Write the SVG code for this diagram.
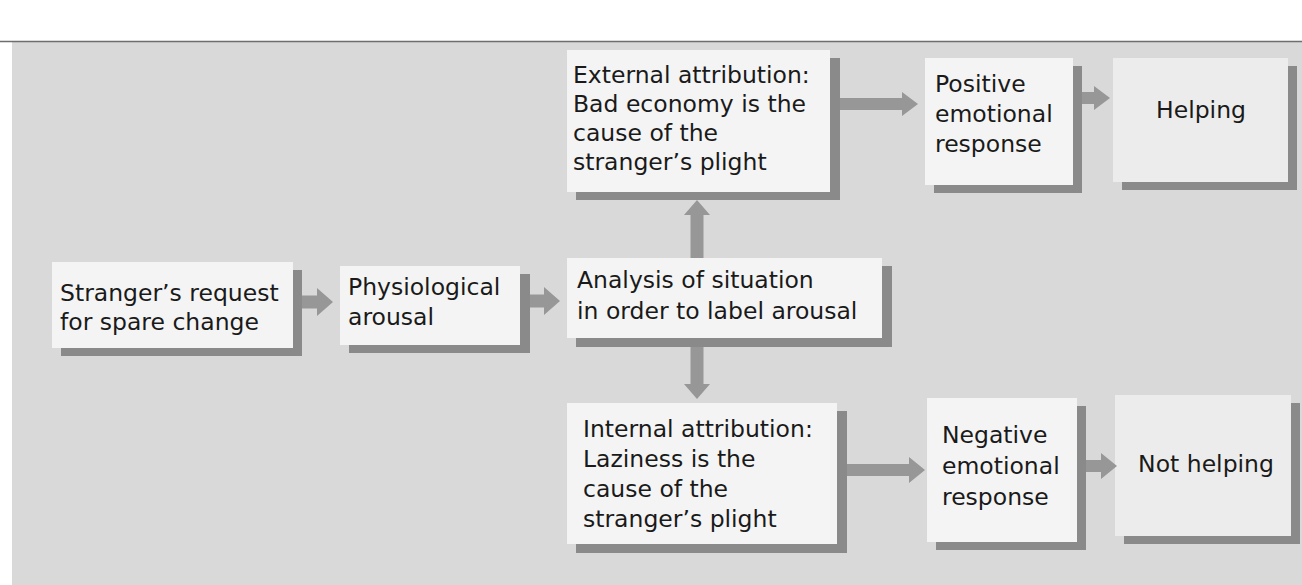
<svg xmlns="http://www.w3.org/2000/svg" width="1302" height="585" viewBox="0 0 1302 585">
<style>
  .bg { fill: #d9d9d9; }
  .box { fill: #f4f4f4; }
  .box2 { fill: #ececec; }
  .shadow { fill: #8a8a8a; }
  .arrow { fill: #979797; }
  text { font-family: "DejaVu Sans", "Noto Sans", sans-serif; font-size: 23.5px; fill: #1a1a1a; }
  .c { text-anchor: middle; }
</style>
<rect x="0" y="0" width="1302" height="585" fill="#ffffff"/>
<rect class="bg" x="12" y="42" width="1290" height="543"/>
<line x1="0" y1="41.5" x2="1302" y2="41.5" stroke="#6e6e6e" stroke-width="1.5"/>

<g id="node-request">
  <rect class="shadow" x="61" y="270" width="241" height="86"/>
  <rect class="box" x="52" y="262" width="241" height="86"/>
  <text x="60" y="301">Stranger’s request</text>
  <text x="60" y="330">for spare change</text>
</g>
<g id="node-arousal">
  <rect class="shadow" x="349" y="274" width="181" height="79"/>
  <rect class="box" x="340" y="266" width="180" height="79"/>
  <text x="348" y="295">Physiological</text>
  <text x="348" y="325">arousal</text>
</g>
<g id="node-analysis">
  <rect class="shadow" x="576" y="266" width="316" height="81"/>
  <rect class="box" x="567" y="258" width="315" height="80"/>
  <text x="577" y="288">Analysis of situation</text>
  <text x="577" y="319">in order to label arousal</text>
</g>
<g id="node-external">
  <rect class="shadow" x="576" y="58" width="264" height="142"/>
  <rect class="box" x="567" y="50" width="263" height="142"/>
  <text x="573" y="83">External attribution:</text>
  <text x="573" y="112">Bad economy is the</text>
  <text x="573" y="141">cause of the</text>
  <text x="573" y="170">stranger’s plight</text>
</g>
<g id="node-positive">
  <rect class="shadow" x="934" y="66" width="148" height="127"/>
  <rect class="box" x="925" y="58" width="148" height="127"/>
  <text x="935" y="92">Positive</text>
  <text x="935" y="122">emotional</text>
  <text x="935" y="152">response</text>
</g>
<g id="node-helping">
  <rect class="shadow" x="1122" y="66" width="175" height="124"/>
  <rect class="box2" x="1113" y="58" width="175" height="124"/>
  <text class="c" x="1201" y="118">Helping</text>
</g>
<g id="node-internal">
  <rect class="shadow" x="576" y="411" width="271" height="142"/>
  <rect class="box" x="567" y="403" width="270" height="141"/>
  <text x="583" y="437">Internal attribution:</text>
  <text x="583" y="467">Laziness is the</text>
  <text x="583" y="497">cause of the</text>
  <text x="583" y="527">stranger’s plight</text>
</g>
<g id="node-negative">
  <rect class="shadow" x="936" y="406" width="150" height="144"/>
  <rect class="box" x="927" y="398" width="150" height="144"/>
  <text x="942" y="443">Negative</text>
  <text x="942" y="474">emotional</text>
  <text x="942" y="505">response</text>
</g>
<g id="node-nothelping">
  <rect class="shadow" x="1124" y="403" width="176" height="141"/>
  <rect class="box2" x="1115" y="395" width="176" height="141"/>
  <text class="c" x="1206" y="472">Not helping</text>
</g>

<g id="connectors">
  <polygon class="arrow" points="302,295.5 317,295.5 317,288 333,302 317,316 317,308.5 302,308.5"/>
  <polygon class="arrow" points="530,294.5 544,294.5 544,287 560,301 544,315 544,307.5 530,307.5"/>
  <polygon class="arrow" points="690.5,258 690.5,215 684,215 697,200 710,215 703.5,215 703.5,258"/>
  <polygon class="arrow" points="690.5,347 690.5,384 684,384 697,399 710,384 703.5,384 703.5,347"/>
  <polygon class="arrow" points="840,98 902,98 902,92 918,104 902,116 902,110 840,110"/>
  <polygon class="arrow" points="1082,92 1094,92 1094,86 1110,98 1094,110 1094,104 1082,104"/>
  <polygon class="arrow" points="847,464 909,464 909,457 925,470 909,483 909,476 847,476"/>
  <polygon class="arrow" points="1086,460 1101,460 1101,453 1117,466 1101,479 1101,472 1086,472"/>
</g>
</svg>
